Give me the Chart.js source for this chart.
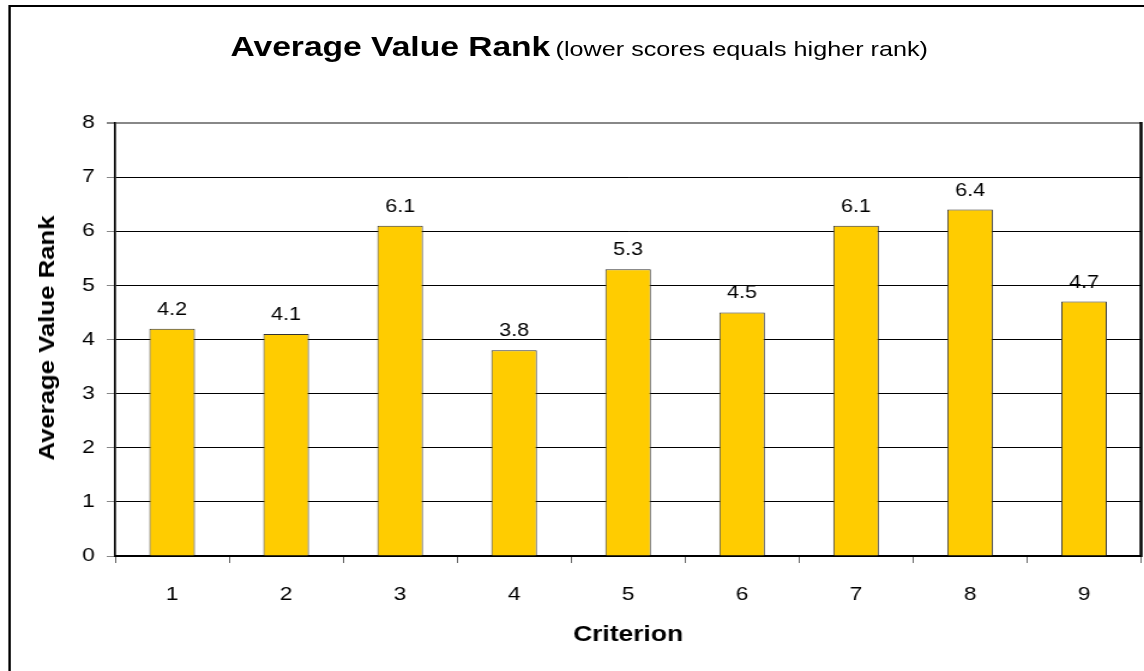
<!DOCTYPE html>
<html>
<head>
<meta charset="utf-8">
<script src="https://cdn.jsdelivr.net/npm/chart.js@4.4.1/dist/chart.umd.min.js"></script>
<style>
  html, body { margin: 0; padding: 0; background: #fff; overflow: hidden; }
  #page { position: relative; width: 1144px; height: 671px; overflow: hidden; font-family: "Liberation Sans", Arial, sans-serif; }
  /* the original text is much wider than Liberation Sans, so the chart is drawn narrower and scaled */
  #wrap { position: absolute; left: 0; top: 0; width: 954px; height: 671px; transform: scaleX(1.1992); transform-origin: 0 0; }
  #frame { position: absolute; left: 7px; top: 5px; width: 2000px; height: 2000px; border: 2px solid #000; box-sizing: border-box; }
  #title { position: absolute; left: 6px; width: 954px; top: 33px; line-height: 28px; text-align: center; color: #000; white-space: nowrap; }
  #title b { font-size: 28px; }
  #title span { font-size: 21px; }
  #ytitle { position: absolute; left: 47px; top: 338px; font-size: 22px; font-weight: bold; line-height: 1; color: #000; white-space: nowrap;
            transform: translate(-50%, -50%) rotate(-90deg) scaleX(1.17); }
  canvas { position: absolute; left: 0; top: 0; }
</style>
</head>
<body>
<div id="page">
<div id="wrap">
  <div id="frame"></div>
  <div id="title"><b>Average Value Rank</b> <span>(lower scores equals higher rank)</span></div>
  <canvas id="chart" width="954" height="671"></canvas>
</div>
<div id="ytitle">Average Value Rank</div>
</div>
<script>
const categories = ['1', '2', '3', '4', '5', '6', '7', '8', '9'];
const avgRank = [4.2, 4.1, 6.1, 3.8, 5.3, 4.5, 6.1, 6.4, 4.7];
const yTicks = [0, 1, 2, 3, 4, 5, 6, 7, 8];

const FONT = '"Liberation Sans", Arial, sans-serif';

// value labels above bars + thick right plot border
const barLabels = {
  id: 'barLabels',
  afterDatasetsDraw(chart) {
    const ctx = chart.ctx;
    const meta = chart.getDatasetMeta(0);
    ctx.save();
    ctx.font = '18px ' + FONT;
    ctx.fillStyle = '#000';
    ctx.textAlign = 'center';
    ctx.textBaseline = 'middle';
    meta.data.forEach((bar, i) => {
      ctx.fillText(avgRank[i].toFixed(1), bar.x, bar.y - 19);
    });
    const a = chart.chartArea;
    ctx.strokeStyle = '#000';
    ctx.lineWidth = 2.5;
    ctx.beginPath();
    ctx.moveTo(a.right, a.top - 1);
    ctx.lineTo(a.right, a.bottom + 1);
    ctx.stroke();
    ctx.restore();
  }
};

new Chart(document.getElementById('chart').getContext('2d'), {
  type: 'bar',
  data: {
    labels: categories,
    datasets: [{
      data: avgRank,
      backgroundColor: '#FFCC00',
      borderColor: '#333',
      borderWidth: 1,
      barPercentage: 0.4,
      categoryPercentage: 1.0
    }]
  },
  options: {
    responsive: false,
    animation: false,
    layout: { padding: { top: 123, right: 2.5, left: 0, bottom: 0 } },
    plugins: {
      legend: { display: false },
      tooltip: { enabled: false }
    },
    scales: {
      y: {
        min: 0,
        max: 8,
        afterBuildTicks(scale) { scale.ticks = yTicks.map(v => ({ value: v })); },
        afterFit(scale) { scale.width = 96; },
        grid: {
          color: ctx => (ctx.tick && ctx.tick.value === 8) ? '#888' : '#000',
          lineWidth: ctx => (ctx.tick && ctx.tick.value === 8) ? 2 : 1,
          tickLength: 7,
          tickColor: '#888'
        },
        border: { display: true, color: '#000', width: 1.7 },
        ticks: {
          color: '#000',
          padding: 10,
          font: { size: 19, family: FONT }
        },
        title: { display: false }
      },
      x: {
        afterFit(scale) { scale.height = 115; },
        grid: {
          offset: true,
          drawOnChartArea: false,
          tickLength: 7,
          color: '#666'
        },
        border: { display: true, color: '#000', width: 2 },
        ticks: {
          color: '#000',
          padding: 20,
          font: { size: 19, family: FONT }
        },
        title: {
          display: true,
          text: 'Criterion',
          color: '#000',
          font: { size: 22, weight: 'bold', family: FONT },
          padding: { top: 0, bottom: 23 }
        }
      }
    }
  },
  plugins: [barLabels]
});
</script>
</body>
</html>
